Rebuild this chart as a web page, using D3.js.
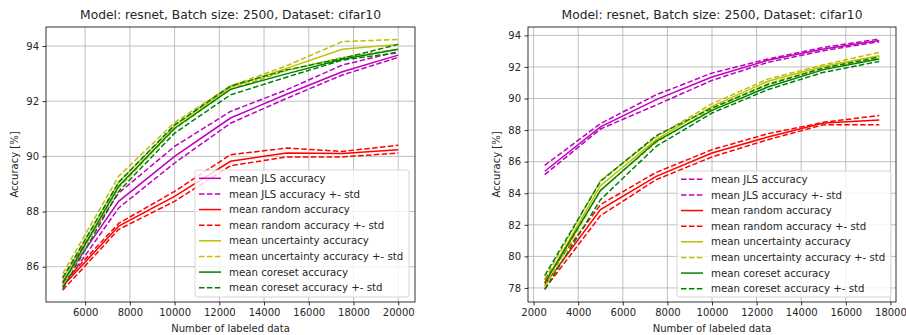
<!DOCTYPE html>
<html><head><meta charset="utf-8">
<script src="https://cdn.jsdelivr.net/npm/d3@7"></script>
<style>
body{margin:0;background:#fff;}
</style></head>
<body><svg id="c" width="906" height="335"></svg>
<script>
// ---- Data ----
const titleText = "Model: resnet, Batch size: 2500, Dataset: cifar10";
const xLabel = "Number of labeled data";
const yLabel = "Accuracy [%]";

// Left panel
const leftX = [5000, 7500, 10000, 12500, 15000, 17500, 20000];
const leftJlsMean  = [85.45, 88.37, 90.0, 91.39, 92.25, 93.07, 93.67];
const leftJlsUp    = [85.6, 88.67, 90.36, 91.63, 92.41, 93.31, 93.8];
const leftJlsLo    = [85.25, 88.13, 89.76, 91.2, 92.1, 92.95, 93.59];
const leftRndMean  = [85.3, 87.47, 88.55, 89.82, 90.12, 90.1, 90.24];
const leftRndUp    = [85.4, 87.57, 88.73, 90.06, 90.3, 90.18, 90.4];
const leftRndLo    = [85.15, 87.35, 88.37, 89.66, 89.98, 89.98, 90.12];
const leftUncMean  = [85.55, 89.06, 91.11, 92.5, 93.19, 93.88, 94.06];
const leftUncUp    = [85.75, 89.28, 91.23, 92.55, 93.28, 94.16, 94.24];
const leftUncLo    = [85.35, 88.86, 90.99, 92.43, 93.11, 93.59, 93.88];
const leftCorMean  = [85.4, 88.92, 91.02, 92.43, 92.99, 93.52, 93.88];
const leftCorUp    = [85.6, 89.06, 91.14, 92.55, 93.13, 93.55, 94.06];
const leftCorLo    = [85.2, 88.73, 90.84, 92.23, 92.87, 93.49, 93.76];
const leftXTicks = [6000, 8000, 10000, 12000, 14000, 16000, 18000, 20000];
const leftYTicks = [86, 88, 90, 92, 94];

// Right panel
const rightX = [2500, 5000, 7500, 10000, 12500, 15000, 17500];
const rightJlsMean = [85.39, 88.2, 89.93, 91.36, 92.42, 93.13, 93.68];
const rightJlsUp   = [85.77, 88.41, 90.24, 91.61, 92.5, 93.24, 93.77];
const rightJlsLo   = [85.18, 88.07, 89.59, 91.15, 92.29, 93.03, 93.6];
const rightRndMean = [78.21, 82.96, 85.07, 86.55, 87.56, 88.45, 88.64];
const rightRndUp   = [78.53, 83.28, 85.32, 86.76, 87.77, 88.49, 88.93];
const rightRndLo   = [77.94, 82.58, 84.86, 86.3, 87.39, 88.34, 88.34];
const rightUncMean = [78.32, 84.48, 87.39, 89.5, 91.09, 92.04, 92.71];
const rightUncUp   = [78.57, 84.8, 87.56, 89.67, 91.23, 92.14, 92.92];
const rightUncLo   = [78.06, 84.18, 87.22, 89.34, 90.94, 91.93, 92.56];
const rightCorMean = [78.32, 84.18, 87.29, 89.25, 90.73, 91.83, 92.5];
const rightCorUp   = [78.78, 84.75, 87.65, 89.4, 90.88, 91.93, 92.63];
const rightCorLo   = [77.89, 83.59, 86.97, 89.08, 90.56, 91.66, 92.35];
const rightXTicks = [2000, 4000, 6000, 8000, 10000, 12000, 14000, 16000, 18000];
const rightYTicks = [78, 80, 82, 84, 86, 88, 90, 92, 94];

const legendLabels = ["mean JLS accuracy", "mean JLS accuracy +- std",
  "mean random accuracy", "mean random accuracy +- std",
  "mean uncertainty accuracy", "mean uncertainty accuracy +- std",
  "mean coreset accuracy", "mean coreset accuracy +- std"];

const colors = {jls:"#bf00bf", rnd:"#ff0000", unc:"#bfbf00", cor:"#008000"};
const DASH = "5.5,2.4";
const FONT = "DejaVu Sans";
const TXT = "#262626";

const svg = d3.select("#c");

function txt(sel, size){
  return sel.attr("font-family",FONT).attr("font-size",size).attr("fill",TXT);
}

function panel(cfg){
  const {x0,x1,y0,y1,xd,yd,xt,yt,X,series,legendBox,legendStyles} = cfg;
  const g = svg.append("g");
  const xs = d3.scaleLinear().domain(xd).range([x0,x1]);
  const ys = d3.scaleLinear().domain(yd).range([y1,y0]);
  // grid
  g.append("g").selectAll("line").data(xt).join("line")
    .attr("x1",d=>xs(d)).attr("x2",d=>xs(d)).attr("y1",y0).attr("y2",y1)
    .attr("stroke","#b0b0b0").attr("stroke-width",0.8);
  g.append("g").selectAll("line").data(yt).join("line")
    .attr("y1",d=>ys(d)).attr("y2",d=>ys(d)).attr("x1",x0).attr("x2",x1)
    .attr("stroke","#b0b0b0").attr("stroke-width",0.8);
  // lines
  const line = d3.line().x((d,i)=>xs(X[i])).y(d=>ys(d));
  series.forEach(s=>{
    g.append("path").datum(s.v).attr("d",line).attr("fill","none")
      .attr("stroke",s.c).attr("stroke-width",1.5)
      .attr("stroke-dasharray",s.dash?DASH:null);
  });
  // axes
  const ax = g.append("g").attr("transform",`translate(0,${y1})`)
    .call(d3.axisBottom(xs).tickValues(xt).tickSize(3.5).tickPadding(3.5).tickFormat(d3.format("d")));
  const ay = g.append("g").attr("transform",`translate(${x0},0)`)
    .call(d3.axisLeft(ys).tickValues(yt).tickSize(3.5).tickPadding(3.5).tickFormat(d3.format("d")));
  [ax,ay].forEach(a=>{
    a.attr("font-family",FONT).attr("font-size",10);
    a.select(".domain").remove();
    a.selectAll("line").attr("stroke","#000").attr("stroke-width",0.8);
    txt(a.selectAll("text"),10);
  });
  g.append("rect").attr("x",x0).attr("y",y0).attr("width",x1-x0).attr("height",y1-y0)
    .attr("fill","none").attr("stroke","#000").attr("stroke-width",0.8);
  // title & labels
  txt(g.append("text").attr("x",(x0+x1)/2).attr("y",y0-8).attr("text-anchor","middle"),12.3).text(titleText);
  txt(g.append("text").attr("x",(x0+x1)/2).attr("y",y1+30).attr("text-anchor","middle"),10).text(xLabel);
  txt(g.append("text").attr("transform",`translate(${cfg.ylx},${(y0+y1)/2}) rotate(-90)`)
    .attr("text-anchor","middle").attr("dominant-baseline","central"),10).text(yLabel);
  // legend
  const L = legendBox;
  g.append("rect").attr("x",L.x).attr("y",L.y).attr("width",L.w).attr("height",L.h)
    .attr("rx",2.5).attr("fill","#fff").attr("fill-opacity",0.8)
    .attr("stroke","#cccccc").attr("stroke-width",0.8);
  const step = 15.63;
  legendLabels.forEach((lab,i)=>{
    const st = legendStyles[i];
    const cy = L.y + 8.3 + i*step;
    g.append("line").attr("x1",L.x+4).attr("x2",L.x+26).attr("y1",cy).attr("y2",cy)
      .attr("stroke",st.c).attr("stroke-width",1.5).attr("stroke-dasharray",st.dash?DASH:null);
    txt(g.append("text").attr("x",L.x+34).attr("y",cy+3.6),10.2).text(lab);
  });
}

const styles = (jlsMeanDash)=>[
  {c:colors.jls,dash:jlsMeanDash},{c:colors.jls,dash:true},
  {c:colors.rnd,dash:false},{c:colors.rnd,dash:true},
  {c:colors.unc,dash:false},{c:colors.unc,dash:true},
  {c:colors.cor,dash:false},{c:colors.cor,dash:true}];

function mkSeries(a){
  return [
    {v:a[0],c:colors.jls},{v:a[1],c:colors.jls,dash:true},{v:a[2],c:colors.jls,dash:true},
    {v:a[3],c:colors.rnd},{v:a[4],c:colors.rnd,dash:true},{v:a[5],c:colors.rnd,dash:true},
    {v:a[6],c:colors.unc},{v:a[7],c:colors.unc,dash:true},{v:a[8],c:colors.unc,dash:true},
    {v:a[9],c:colors.cor},{v:a[10],c:colors.cor,dash:true},{v:a[11],c:colors.cor,dash:true}];
}

panel({x0:46,x1:415,y0:27,y1:302,xd:[4250,20750],yd:[84.72,94.69],
  xt:leftXTicks,yt:leftYTicks,X:leftX,ylx:14,
  series:mkSeries([leftJlsMean,leftJlsUp,leftJlsLo,leftRndMean,leftRndUp,leftRndLo,
    leftUncMean,leftUncUp,leftUncLo,leftCorMean,leftCorUp,leftCorLo]),
  legendBox:{x:195,y:170,w:214,h:127},legendStyles:styles(false)});

panel({x0:528,x1:896,y0:27,y1:302,xd:[1750,18250],yd:[77.11,94.53],
  xt:rightXTicks,yt:rightYTicks,X:rightX,ylx:496,
  series:mkSeries([rightJlsMean,rightJlsUp,rightJlsLo,rightRndMean,rightRndUp,rightRndLo,
    rightUncMean,rightUncUp,rightUncLo,rightCorMean,rightCorUp,rightCorLo]),
  legendBox:{x:677,y:171,w:214,h:126},legendStyles:styles(true)});
</script></body></html>
